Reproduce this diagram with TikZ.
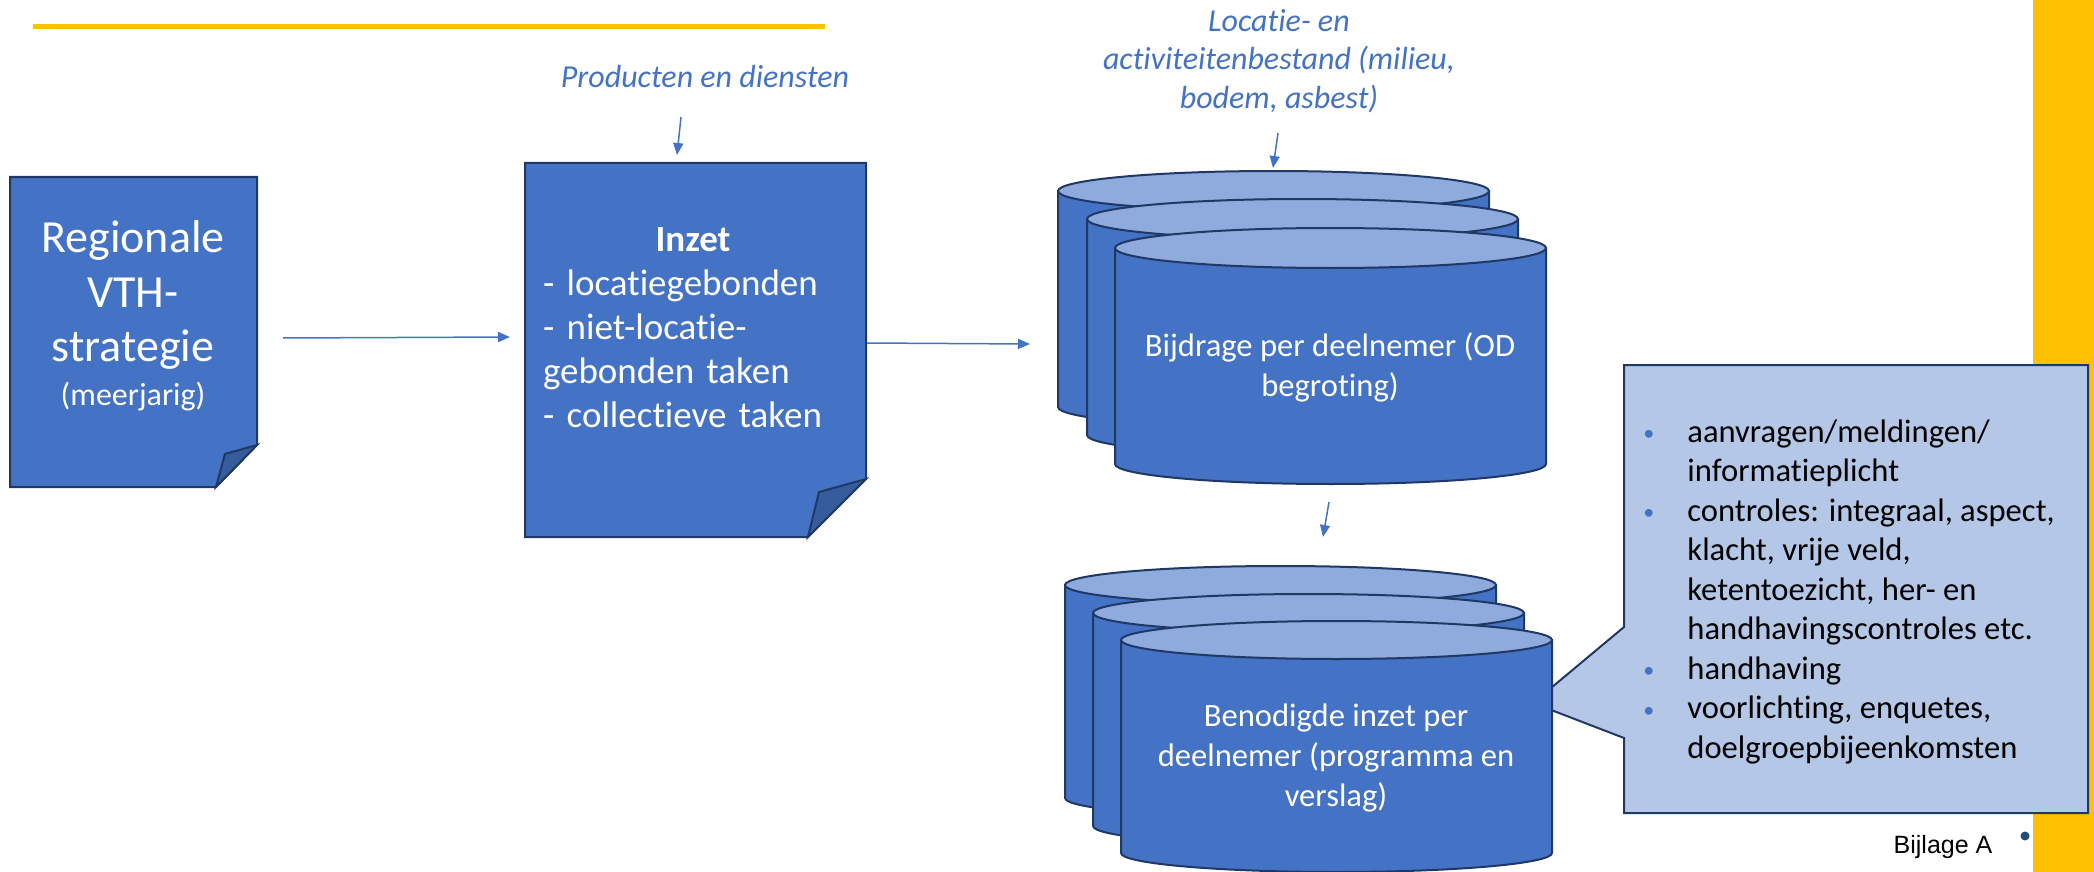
\documentclass[tikz,border=0pt]{standalone}
\usepackage{fontspec}
\setmainfont{Carlito}[Ligatures=NoCommon]
\newfontfamily\arialfont{Liberation Sans}
\usetikzlibrary{arrows.meta}
\definecolor{accent}{HTML}{4472C4}
\definecolor{accentlight}{HTML}{8FAADC}
\definecolor{calloutfill}{HTML}{B4C7E7}
\definecolor{outline}{HTML}{203864}
\definecolor{flapcol}{HTML}{375C9E}
\definecolor{gold}{HTML}{FFC000}
\definecolor{dotcol}{HTML}{1F4E79}
\newcommand\drawcyl[4]{%
  \path[shapeline, fill=accent] (#1,#2) -- (#1,#3) arc[start angle=180,end angle=0,x radius=215.5,y radius=#4] -- (#1+431,#2) -- cycle;
  \path[shapeline, fill=accentlight] (#1+215.5,#2) ellipse[x radius=215.5, y radius=#4];
}
\newcommand\bul{\makebox[22pt][l]{\color{accent}\fontsize{11}{11}\selectfont\raisebox{0.05em}{•}}}
\newcommand\ind{\hspace*{22pt}}
\begin{document}
\begin{tikzpicture}[x=0.5pt,y=-0.5pt,
  shapeline/.style={draw=outline, line width=1pt, line join=miter},
  conn/.style={draw=accent, line width=0.75pt, -{Triangle[length=6pt,width=5pt]}},
  whitetext/.style={text=white, inner sep=0pt, align=center},
  cyltext/.style={whitetext, font=\fontsize{16.3}{20}\selectfont},
  labeltext/.style={text=accent, inner sep=0pt, align=center, font=\fontsize{16}{19.3}\selectfont\itshape}]
\useasboundingbox (0,0) rectangle (2094,872);
% decorations
\fill[gold] (2033,0) rectangle (2094,872);
\fill[gold] (33,24) rectangle (825,29);
% document 1
\path[shapeline, fill=accent] (10,177) -- (257,177) -- (257,445) -- (216,487) -- (10,487) -- cycle;
\path[shapeline, fill=flapcol] (257,445) -- (225,454) -- (216,487) -- cycle;
\node[whitetext, font=\fontsize{23}{27.3}\selectfont] (reg) at (133,295) {Regionale\\VTH-\\strategie};
\node[whitetext, font=\fontsize{16}{19}\selectfont] (regsub) at (133,397) {(meerjarig)};
% document 2
\path[shapeline, fill=accent] (525,163) -- (866,163) -- (866,479) -- (808,537) -- (525,537) -- cycle;
\path[shapeline, fill=flapcol] (866,479) -- (819,492) -- (808,537) -- cycle;
\node[text=white, inner sep=0pt, text width=150pt, align=left, font=\fontsize{18.5}{22}\selectfont] (inzet) at (693,328)
  {\makebox[\linewidth]{\bfseries Inzet}\\- locatiegebonden\\- niet-locatie-\\gebonden taken\\- collectieve taken};
% labels
\node[labeltext] (prod) at (705,77) {Producten en diensten};
\node[labeltext] (loc) at (1279,61) {Locatie- en\\activiteitenbestand (milieu,\\bodem, asbest)};
% cylinders group 1
\drawcyl{1058}{191}{407}{20}
\drawcyl{1087}{219}{435}{20}
\drawcyl{1115}{248}{464}{20}
\node[cyltext] (bij) at (1330,367) {Bijdrage per deelnemer (OD\\begroting)};
% callout
\path[draw=outline, line width=1pt, fill=calloutfill] (1624,365) -- (2088,365) -- (2088,813) -- (1624,813) -- (1624,738) -- (1533,703) -- (1624,627) -- cycle;
\node[anchor=north west, inner sep=0pt, align=left, font=\fontsize{16.3}{19.75}\selectfont] (list) at (1643,419)
  {\bul aanvragen/meldingen/\\\ind informatieplicht\\\bul controles: integraal, aspect,\\\ind klacht, vrije veld,\\\ind ketentoezicht, her- en\\\ind handhavingscontroles etc.\\\bul handhaving\\\bul voorlichting, enquetes,\\\ind doelgroepbijeenkomsten};
% cylinders group 2
\drawcyl{1065}{585}{798}{19}
\drawcyl{1093}{613}{826}{19}
\drawcyl{1121}{640}{853}{19}
\node[cyltext] (ben) at (1336,758) {Benodigde inzet per\\deelnemer (programma en\\verslag)};
% footer
\node[inner sep=0pt, font=\arialfont\fontsize{12.5}{15}\selectfont] (bijlage) at (1943,847) {Bijlage A};
\fill[dotcol] (2025,836) circle[radius=4.5];
% connectors
\coordinate (a1s) at (283,338); \coordinate (a1e) at (510,337);
\coordinate (a2s) at (867,343); \coordinate (a2e) at (1030,344);
\coordinate (a3s) at (681,117); \coordinate (a3e) at (677,155);
\coordinate (a4s) at (1278,133); \coordinate (a4e) at (1273,168);
\coordinate (a5s) at (1329,502); \coordinate (a5e) at (1323,537);
\draw[conn] (a1s) -- (a1e);
\draw[conn] (a2s) -- (a2e);
\draw[conn] (a3s) -- (a3e);
\draw[conn] (a4s) -- (a4e);
\draw[conn] (a5s) -- (a5e);
\end{tikzpicture}
\end{document}
